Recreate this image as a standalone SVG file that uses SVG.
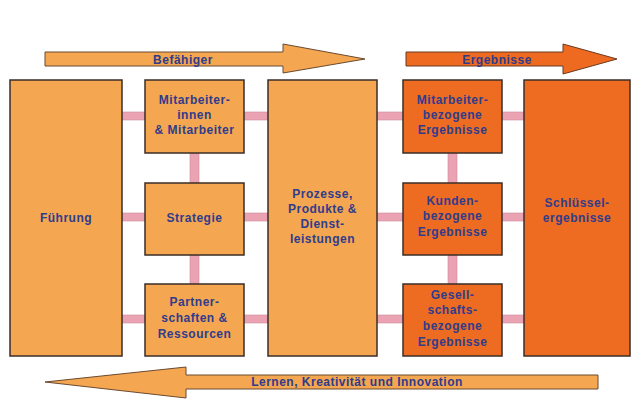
<svg xmlns="http://www.w3.org/2000/svg" width="631" height="399" viewBox="0 0 631 399">
<style>
.lt{fill:#F5A650;stroke:#3a2e28;stroke-width:1.5}
.dk{fill:#EE6C22;stroke:#3a2e28;stroke-width:1.5}
.arL{fill:#F5A650;stroke:#6b4a30;stroke-width:1}
.arD{fill:#EE6A20;stroke:#6b3a20;stroke-width:1}
.con{fill:#EBA3B3;stroke:#c88c9a;stroke-width:0.6}
text{font-family:"Liberation Sans",Arial,sans-serif;font-weight:bold;font-size:12px;letter-spacing:0.5px;fill:#2F3C8C;text-anchor:middle}
</style>
<rect width="631" height="399" fill="#ffffff"/>
<g id="connectors">
<rect class="con" x="122" y="112" width="23" height="8"/>
<rect class="con" x="244" y="112" width="24" height="8"/>
<rect class="con" x="377" y="112" width="26" height="8"/>
<rect class="con" x="502" y="112" width="22" height="8"/>
<rect class="con" x="122" y="213" width="23" height="8"/>
<rect class="con" x="244" y="213" width="24" height="8"/>
<rect class="con" x="377" y="213" width="26" height="8"/>
<rect class="con" x="502" y="213" width="22" height="8"/>
<rect class="con" x="122" y="315" width="23" height="8"/>
<rect class="con" x="244" y="315" width="24" height="8"/>
<rect class="con" x="377" y="315" width="26" height="8"/>
<rect class="con" x="502" y="315" width="22" height="8"/>
<rect class="con" x="190" y="153" width="9" height="30"/>
<rect class="con" x="190" y="255" width="9" height="29"/>
<rect class="con" x="448" y="153" width="9" height="30"/>
<rect class="con" x="448" y="255" width="9" height="29"/>
</g>
<g id="arrow-befaehiger">
<polygon class="arL" points="45,52 283,52 283,44 365,59 283,73 283,66 45,66"/>
<text x="183" y="64">Befähiger</text>
</g>
<g id="arrow-ergebnisse">
<polygon class="arD" points="406,52 563,52 563,44 617,59 563,74 563,66 406,66"/>
<text x="497" y="64">Ergebnisse</text>
</g>
<g id="arrow-lernen">
<polygon class="arL" points="598,375 186,375 186,367 45,382 186,398 186,389 598,389"/>
<text x="357" y="386">Lernen, Kreativität und Innovation</text>
</g>
<g id="fuehrung">
<rect class="lt" x="10" y="80" width="112" height="276"/>
<text x="66" y="222">Führung</text>
</g>
<g id="mitarbeiter">
<rect class="lt" x="145" y="80" width="99" height="73"/>
<text x="194.5" y="104">Mitarbeiter-</text>
<text x="194.5" y="119">innen</text>
<text x="194.5" y="134">&amp; Mitarbeiter</text>
</g>
<g id="strategie">
<rect class="lt" x="145" y="183" width="99" height="72"/>
<text x="194.5" y="222">Strategie</text>
</g>
<g id="partnerschaften">
<rect class="lt" x="145" y="284" width="99" height="72"/>
<text x="194.5" y="306">Partner-</text>
<text x="194.5" y="322">schaften &amp;</text>
<text x="194.5" y="338">Ressourcen</text>
</g>
<g id="prozesse">
<rect class="lt" x="268" y="80" width="109" height="276"/>
<text x="322.5" y="198">Prozesse,</text>
<text x="322.5" y="213">Produkte &amp;</text>
<text x="322.5" y="228">Dienst-</text>
<text x="322.5" y="243">leistungen</text>
</g>
<g id="mitarbeiter-ergebnisse">
<rect class="dk" x="403" y="80" width="99" height="73"/>
<text x="452.5" y="104">Mitarbeiter-</text>
<text x="452.5" y="119">bezogene</text>
<text x="452.5" y="134">Ergebnisse</text>
</g>
<g id="kunden-ergebnisse">
<rect class="dk" x="403" y="183" width="99" height="72"/>
<text x="452.5" y="205">Kunden-</text>
<text x="452.5" y="220">bezogene</text>
<text x="452.5" y="236">Ergebnisse</text>
</g>
<g id="gesellschaft-ergebnisse">
<rect class="dk" x="403" y="284" width="99" height="72"/>
<text x="452.5" y="299">Gesell-</text>
<text x="452.5" y="314">schafts-</text>
<text x="452.5" y="330">bezogene</text>
<text x="452.5" y="346">Ergebnisse</text>
</g>
<g id="schluesselergebnisse">
<rect class="dk" x="524" y="80" width="106" height="276"/>
<text x="577" y="207">Schlüssel-</text>
<text x="577" y="222">ergebnisse</text>
</g>
</svg>
